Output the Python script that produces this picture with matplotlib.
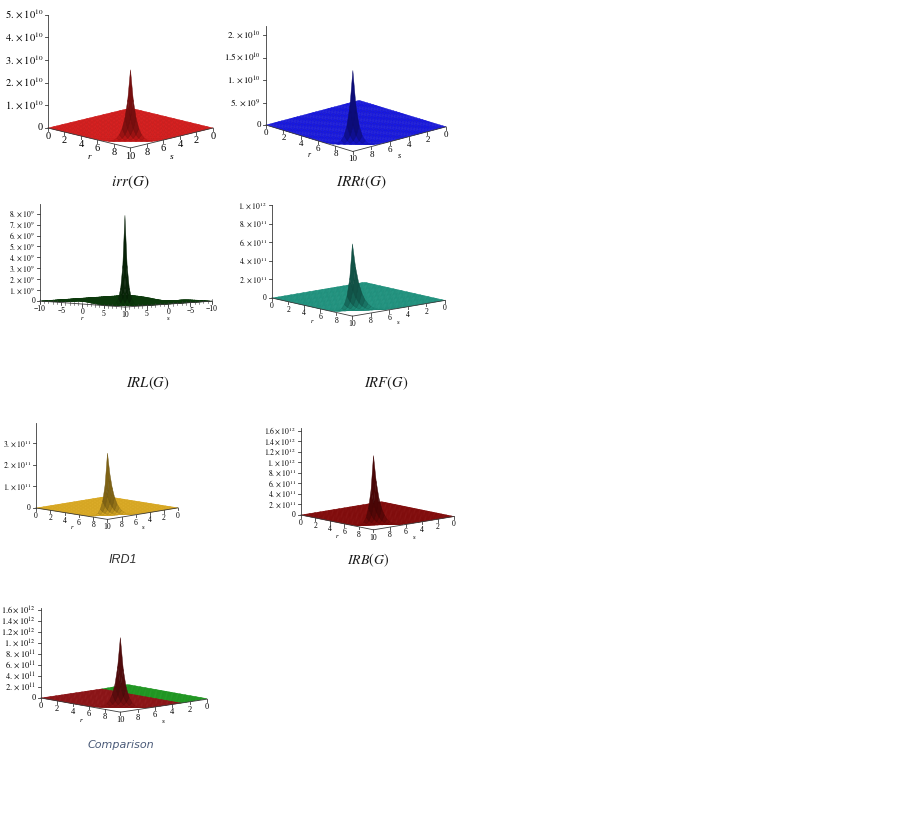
import numpy as np
import matplotlib
matplotlib.use("Agg")
import matplotlib.pyplot as plt
from matplotlib.colors import to_rgba

W, H = 923, 836
plt.rcParams['font.family'] = ['Liberation Serif', 'DejaVu Serif']
plt.rcParams['mathtext.fontset'] = 'stix'

# ---- values ----
titles = [r"$irr(G)$", r"$IRRt(G)$", r"$IRL(G)$", r"$IRF(G)$", "IRD1", r"$IRB(G)$", "Comparison"]
peak_heights = [3.45e10, 1.8e10, 8.4e9, 7.8e11, 3.07e11, 1.41e12, 1.36e12]
z_tops = [5.0e10, 2.2e10, 8.9e9, 1.0e12, 3.95e11, 1.66e12, 1.65e12]
z_ticks = [
    [1e10, 2e10, 3e10, 4e10, 5e10],
    [5e9, 1e10, 1.5e10, 2e10],
    [1e9, 2e9, 3e9, 4e9, 5e9, 6e9, 7e9, 8e9],
    [2e11, 4e11, 6e11, 8e11, 1e12],
    [1e11, 2e11, 3e11],
    [2e11, 4e11, 6e11, 8e11, 1e12, 1.2e12, 1.4e12, 1.6e12],
    [2e11, 4e11, 6e11, 8e11, 1e12, 1.2e12, 1.4e12, 1.6e12],
]
domains = [(0, 10), (0, 10), (-10, 10), (0, 10), (0, 10), (0, 10), (0, 10)]
r_ticks = [[0, 2, 4, 6, 8]] * 7
r_ticks[2] = [-10, -5, 0, 5]
s_ticks = [[10, 8, 6, 4, 2, 0]] * 7
s_ticks[2] = [10, 5, 0, -5, -10]
# how fast each index falls away from the (10, 10) corner, per unit of r and of s
decay_r = [1.5, 1.8, 1.6, 2.0, 2.0, 1.9, 1.5]
decay_s = [1.5, 1.8, 1.6, 1.2, 1.15, 1.3, 1.7]
irl_ridge = 0.25e9         # low ridge of IRL(G) round r = -1
comp_green_level = 1.0e10  # second index that shows green along the s = 0 side
comp_green_reach = 3.0

# ---- styling / layout ----
surface_colors = ['#e41c1c', '#1818ea', '#0e420e', '#22a08a', '#f4be28', '#900c0c', '#9c1518']
green_color = '#22a824'
elevs = [14, 16.5, 4, 11.3, 9.3, 10.6, 9.4]
azims = [45, 47, 45.7, 49, 44.6, 48, 47.5]
z_aspect = [1.0, 0.81, 0.80, 0.77, 0.86, 0.82, 0.78]
left_px = [(48, 128), (266, 125), (40, 301), (272, 298), (36, 508), (301, 515), (41, 698)]
right_px = [(213, 128), (446, 131), (212, 300), (445, 302), (178, 511), (454, 521), (207, 703)]
caption_px = [(130, 182), (361, 182), (148, 383), (386, 383), (123, 560), (368, 560), (121, 745)]
caption_fs = [11, 11, 10.5, 10.5, 9, 10, 8]
tick_fs = [7.5, 6.5, 5.5, 5.5, 5.5, 5.5, 6]
axis_color = '#3a3a3a'


def sci(v):
    e = int(np.floor(np.log10(v) + 1e-9))
    m = round(v / 10 ** e, 1)
    ms = f"{int(m)}." if m == int(m) else f"{m:g}"
    return rf"${ms}\times10^{{{e}}}$"


def num(v):
    return f"{v}".replace("-", "\u2212")


fig = plt.figure(figsize=(W / 100, H / 100), dpi=100)
fig.patch.set_facecolor('white')
axes = []
labels = []   # (panel, x, y, z, text, dx_px, dy_px, kwargs)

for i in range(7):
    lo, hi = domains[i]
    span = hi - lo
    ztop = z_tops[i]
    n = 41 if span > 10 else 31
    s = np.linspace(lo, hi, n)
    r = np.linspace(lo, hi, n)
    S, R = np.meshgrid(s, r)
    Z = peak_heights[i] * np.exp(decay_r[i] * (R - hi) + decay_s[i] * (S - hi))
    base = np.empty(Z.shape + (4,))
    base[:] = to_rgba(surface_colors[i])
    if i == 2:
        Z = Z + irl_ridge * np.exp(-((R + 1) / 4) ** 2) * (S / hi)
    if i == 6:
        G = comp_green_level * (1 - S / comp_green_reach)
        on_top = G > Z
        Z = np.where(on_top, G, Z)
        base[on_top] = to_rgba(green_color)

    # simple shading: faces turned away from the viewer get darker
    zb = Z / ztop * z_aspect[i]
    dzdr, dzds = np.gradient(zb, r / span, s / span)
    nrm = np.dstack([-dzds, -dzdr, np.ones_like(zb)])
    nrm /= np.linalg.norm(nrm, axis=2, keepdims=True)
    phi = np.radians(azims[i])
    light = np.array([np.cos(phi), np.sin(phi), 2.6])
    light /= np.linalg.norm(light)
    d = np.clip(nrm @ light, 0, 1)
    k = np.minimum((0.5 + 0.5 * d) / (0.5 + 0.5 * light[2]), 1.0)
    fc = base.copy()
    fc[..., :3] *= k[..., None]

    ax = fig.add_axes([0, 0, 0.3, 0.3 * W / H], projection='3d')
    ax.set_proj_type('ortho')
    ax.set_axis_off()
    ax.patch.set_alpha(0)
    ax.computed_zorder = False

    surf = ax.plot_surface(S, R, Z, facecolors=fc, shade=False, rstride=1, cstride=1,
                           linewidth=0.3, antialiased=True, zorder=1)
    edge = fc[:-1, :-1].reshape(-1, 4).copy()
    edge[:, :3] *= 0.86
    surf.set_edgecolor(edge)

    left = (np.sin(phi), -np.cos(phi))   # screen-left direction in the (s, r) plane
    tl = 0.025 * span
    dz = 0.03 * ztop
    fs = tick_fs[i]
    tk = dict(fontsize=fs)

    # vertical axis at the left corner
    ax.plot([hi, hi], [lo, lo], [0, ztop], color=axis_color, lw=0.6, zorder=3)
    for zt in [0] + z_ticks[i]:
        ax.plot([hi, hi + tl * left[0]], [lo, lo + tl * left[1]], [zt, zt],
                color=axis_color, lw=0.6, zorder=3)
        labels.append((i, hi, lo, zt, "0" if zt == 0 else sci(zt), -5, 0,
                       dict(ha='right', va='center', **tk)))

    # r axis (left-front edge) and s axis (front-right edge)
    ax.plot([hi, hi], [lo, hi], [0, 0], color=axis_color, lw=0.6, zorder=3)
    ax.plot([hi, lo], [hi, hi], [0, 0], color=axis_color, lw=0.6, zorder=3)
    if span > 10:
        for v in np.arange(lo, hi + 1):
            ax.plot([hi, hi], [v, v], [0.6 * dz, -0.6 * dz], color=axis_color, lw=0.4, zorder=3)
            ax.plot([v, v], [hi, hi], [0.6 * dz, -0.6 * dz], color=axis_color, lw=0.4, zorder=3)
    for rv in r_ticks[i]:
        ax.plot([hi, hi], [rv, rv], [0, -dz], color=axis_color, lw=0.6, zorder=3)
        labels.append((i, hi, rv, 0, num(rv), 0, -4, dict(ha='center', va='top', **tk)))
    for sv in s_ticks[i]:
        ax.plot([sv, sv], [hi, hi], [0, -dz], color=axis_color, lw=0.6, zorder=3)
        labels.append((i, sv, hi, 0, num(sv), 0, -4, dict(ha='center', va='top', **tk)))
    mid = (lo + hi) / 2
    labels.append((i, hi, mid, 0, "r", 0, -2.6 * fs,
                   dict(ha='center', va='center', fontsize=fs * 0.9, style='italic')))
    labels.append((i, mid, hi, 0, "s", 0, -2.6 * fs,
                   dict(ha='center', va='center', fontsize=fs * 0.9, style='italic')))

    ax.set_xlim(lo, hi)
    ax.set_ylim(lo, hi)
    ax.set_zlim(0, ztop)
    ax.set_box_aspect((1, 1, z_aspect[i]))
    ax.view_init(elev=elevs[i], azim=azims[i])
    axes.append(ax)

# captions
for i, (cx, cy) in enumerate(caption_px):
    if titles[i] == "IRD1":
        fig.text(cx / W, 1 - cy / H, titles[i], ha='center', va='center',
                 fontsize=caption_fs[i], family='Liberation Sans', style='italic', color='#303030')
    elif titles[i] == "Comparison":
        fig.text(cx / W, 1 - cy / H, titles[i], ha='center', va='center',
                 fontsize=caption_fs[i], family='DejaVu Sans', style='italic', color='#4a5a78')
    else:
        fig.text(cx / W, 1 - cy / H, titles[i], ha='center', va='center',
                 fontsize=caption_fs[i], color='#1a1a1a')


def to_display(ax, x, y, z):
    v = ax.get_proj() @ np.array([x, y, z, 1.0])
    return ax.transData.transform((v[0] / v[3], v[1] / v[3]))


# put every 3D panel where its corners sit in the picture
fig.canvas.draw()
for i, ax in enumerate(axes):
    lo, hi = domains[i]
    inv = ax.transAxes.inverted()
    ul = inv.transform(to_display(ax, hi, lo, 0))
    ur = inv.transform(to_display(ax, lo, hi, 0))
    L, Rt = left_px[i], right_px[i]
    size = (Rt[0] - L[0]) / (ur[0] - ul[0])
    x0 = L[0] - ul[0] * size
    y0 = (H - L[1]) - ul[1] * size
    ax.set_position([x0 / W, y0 / H, size / W, size / H])

# tick and axis labels as flat texts at the projected anchor points
fig.canvas.draw()
for (i, x, y, z, txt, dx, dy, kw) in labels:
    px, py = to_display(axes[i], x, y, z)
    fig.text((px + dx) / W, (py + dy) / H, txt, **kw)

fig.savefig("out.png", dpi=100)
